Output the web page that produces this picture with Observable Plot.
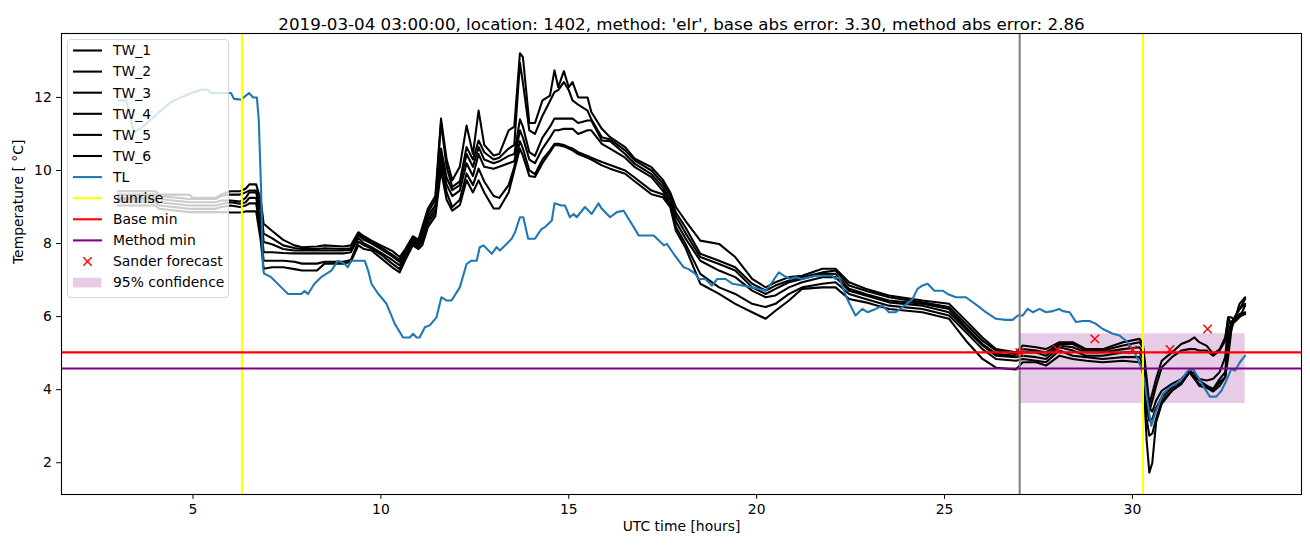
<!DOCTYPE html>
<html><head><meta charset="utf-8">
<script src="https://cdn.jsdelivr.net/npm/d3@7"></script>
<script src="https://cdn.jsdelivr.net/npm/@observablehq/plot@0.6"></script>
<style>
body{margin:0;background:#fff;font-family:"DejaVu Sans",sans-serif;}
#wrap{position:relative;width:1310px;height:547px;}
#legend{position:absolute;left:67px;top:39px;width:162px;height:259px;background:rgba(255,255,255,0.8);border:1px solid rgba(204,204,204,0.8);border-radius:4px;box-sizing:border-box;}
#legend svg{position:absolute;left:-1px;top:-1px;}
</style></head><body><div id="wrap"><div id="legend"></div></div>
<script>
const title = "2019-03-04 03:00:00, location: 1402, method: 'elr', base abs error: 3.30, method abs error: 2.86";
const xLabel = "UTC time [hours]";
const yLabel = "Temperature [ °C]";
const xTicks = [5, 10, 15, 20, 25, 30];
const yTicks = [2, 4, 6, 8, 10, 12];

const twHours = [3.0,4.0,4.1,4.9,5.0,5.6,5.75,6.0,6.25,6.4,6.5,6.68,6.8,6.88,7.1,7.4,7.7,7.9,8.3,8.5,9.0,9.2,9.4,9.55,9.75,10.0,10.3,10.5,10.65,10.85,11.0,11.1,11.25,11.45,11.6,11.75,11.9,12.1,12.28,12.45,12.6,12.75,13.0,13.15,13.4,13.55,13.7,13.78,13.95,14.1,14.3,14.5,14.62,14.72,14.87,15.0,15.1,15.25,15.5,15.6,15.88,16.1,16.5,16.76,17.2,17.5,17.7,17.85,18.1,18.5,19.0,19.43,19.88,20.24,20.5,20.86,21.21,21.75,22.1,22.46,22.9,23.52,24.41,25.12,25.57,26.01,26.37,26.9,27.08,27.44,27.7,28.06,28.41,28.77,29.21,29.75,30.19,30.28,30.38,30.45,30.53,30.63,30.78,31.05,31.3,31.52,31.65,31.78,31.98,32.15,32.32,32.47,32.55,32.63,32.72,32.85,33.0];
const tw1 = [9.43,9.43,9.34,9.34,9.25,9.25,9.34,9.43,9.43,9.50,9.62,9.62,9.20,8.54,8.35,8.10,7.95,7.90,7.92,7.95,7.92,7.95,8.31,8.20,8.08,7.95,7.80,7.63,7.85,8.20,8.10,8.45,8.95,9.30,11.42,10.30,9.73,10.10,11.23,10.45,11.64,10.70,10.41,10.45,11.10,11.20,13.21,13.10,11.30,11.30,11.92,12.05,12.74,12.28,12.72,12.28,12.42,12.00,12.00,11.60,11.14,10.91,10.64,10.32,10.09,9.75,9.40,9.00,8.63,8.08,7.99,7.63,7.03,6.80,6.94,7.08,7.12,7.31,7.31,6.94,6.76,6.58,6.44,6.35,5.89,5.43,5.11,5.02,5.21,5.16,5.11,5.30,5.30,5.11,5.11,5.30,5.39,5.25,4.30,3.60,3.90,4.30,4.79,5.02,5.25,5.34,5.43,5.30,5.20,4.98,5.10,5.43,5.98,5.98,5.90,6.35,6.53];
const tw2 = [9.34,9.34,9.30,9.22,9.22,9.22,9.30,9.34,9.34,9.40,9.45,9.45,9.00,8.27,8.15,7.95,7.88,7.85,7.85,7.87,7.85,7.87,8.28,8.15,8.04,7.90,7.70,7.55,7.80,8.15,8.05,8.35,8.85,9.20,11.30,10.10,9.55,9.70,10.64,10.30,10.82,10.50,10.30,10.35,10.60,10.70,12.95,12.40,11.10,11.00,11.50,11.90,12.15,12.20,12.42,12.20,11.92,11.80,11.64,11.40,10.91,10.85,10.55,10.27,10.00,9.65,9.30,8.85,8.45,7.72,7.53,7.35,6.90,6.71,6.85,6.99,7.08,7.21,7.26,6.85,6.71,6.53,6.39,6.26,5.80,5.34,5.07,4.98,5.11,5.07,5.02,5.25,5.25,5.07,5.07,5.21,5.30,5.15,4.00,3.40,3.70,4.10,4.61,4.89,5.07,5.11,5.11,5.07,5.07,4.93,5.07,5.34,5.98,5.80,5.85,5.98,6.30];
const tw3 = [9.25,9.25,9.22,9.13,9.13,9.13,9.18,9.18,9.15,9.25,9.40,9.40,8.90,8.04,7.98,7.85,7.81,7.81,7.81,7.81,7.81,7.83,8.23,8.10,8.00,7.85,7.65,7.50,7.75,8.10,8.00,8.25,8.75,9.05,10.60,9.80,9.46,9.60,10.45,10.10,10.64,10.30,10.20,10.25,10.40,10.45,11.40,11.20,10.50,10.40,10.90,11.20,11.42,11.42,11.42,11.42,11.42,11.30,11.37,11.37,10.82,10.80,10.45,10.18,9.90,9.55,9.20,8.75,8.30,7.63,7.44,7.26,6.80,6.62,6.76,6.94,7.03,7.17,7.17,6.76,6.62,6.44,6.35,6.21,5.71,5.25,4.98,4.93,5.02,5.02,4.93,5.21,5.16,5.02,5.02,5.11,5.16,5.00,3.80,3.51,3.40,3.70,3.97,4.16,4.29,4.52,4.43,4.29,4.25,4.30,4.48,4.89,5.80,5.85,5.90,6.07,6.12];
const tw4 = [9.20,9.20,9.13,9.04,9.04,9.04,9.08,9.13,9.09,9.13,9.25,9.25,8.60,7.76,7.76,7.74,7.73,7.73,7.73,7.73,7.73,7.76,8.15,8.00,7.90,7.75,7.55,7.40,7.70,8.05,7.95,8.15,8.65,8.95,10.40,9.60,9.30,9.45,10.20,9.85,10.45,10.10,10.05,10.10,10.20,10.25,11.10,10.90,10.30,10.20,10.60,10.90,11.10,11.10,11.14,11.14,11.14,11.00,11.10,11.10,10.73,10.60,10.35,10.09,9.82,9.45,9.10,8.60,8.15,7.53,7.26,7.08,6.71,6.53,6.58,6.80,6.94,7.08,7.08,6.71,6.58,6.39,6.30,6.12,5.66,5.21,4.93,4.89,4.93,4.89,4.84,5.16,5.07,4.93,4.93,5.02,5.02,4.85,3.60,3.15,3.20,3.50,3.79,4.05,4.20,4.48,4.35,4.25,4.11,4.02,4.29,4.48,5.50,5.85,5.95,6.00,6.07];
const tw5 = [9.13,9.13,9.04,8.95,8.95,8.95,9.00,9.04,9.00,9.04,9.10,9.10,8.30,7.53,7.53,7.53,7.50,7.45,7.45,7.50,7.50,7.55,8.05,7.95,7.86,7.70,7.45,7.30,7.62,8.00,7.90,8.05,8.55,8.85,10.20,9.40,9.00,9.20,9.92,9.60,10.05,9.70,9.30,9.25,9.60,10.10,10.80,10.60,10.00,9.90,10.30,10.55,10.73,10.73,10.70,10.64,10.60,10.50,10.40,10.35,10.23,10.15,10.00,9.80,9.45,9.35,9.05,8.45,8.00,7.17,6.80,6.62,6.35,6.26,6.35,6.62,6.80,6.90,6.94,6.62,6.48,6.30,6.21,6.03,5.57,5.11,4.84,4.79,4.84,4.79,4.75,5.07,4.93,4.89,4.84,4.89,4.89,4.70,3.20,2.74,2.80,3.20,3.70,3.97,4.16,4.48,4.30,4.15,4.07,3.97,4.20,4.34,5.16,5.70,5.98,6.20,6.48];
const tw6 = [9.04,9.04,8.95,8.86,8.86,8.86,8.86,8.85,8.85,8.88,8.88,8.88,8.10,7.31,7.35,7.35,7.30,7.26,7.26,7.45,7.45,7.50,7.95,7.85,7.81,7.60,7.35,7.21,7.55,7.95,7.85,7.95,8.45,8.75,10.00,9.20,8.90,9.05,9.73,9.40,9.73,9.40,8.96,8.96,9.40,10.00,10.60,10.40,9.85,9.82,10.20,10.50,10.69,10.69,10.66,10.60,10.55,10.45,10.35,10.30,10.14,10.05,9.91,9.70,9.35,9.27,9.00,8.35,7.90,6.90,6.62,6.35,6.12,5.94,6.16,6.44,6.76,6.80,6.80,6.48,6.39,6.21,6.12,5.94,5.34,4.84,4.60,4.55,4.75,4.75,4.66,4.93,4.84,4.79,4.75,4.79,4.75,4.60,2.60,1.73,2.00,3.10,3.61,3.97,4.16,4.48,4.30,4.10,4.05,3.95,4.10,4.34,4.90,5.60,5.98,6.20,6.35];

const tlHours = [3.0,3.22,3.43,3.61,4.15,4.41,4.68,4.95,5.21,5.39,5.48,5.83,6.01,6.09,6.28,6.49,6.6,6.7,6.75,6.81,6.86,6.89,7.08,7.35,7.53,7.88,7.97,8.06,8.23,8.41,8.68,8.86,9.03,9.12,9.21,9.57,9.66,9.75,9.93,10.01,10.15,10.37,10.59,10.77,10.86,10.95,11.03,11.17,11.3,11.48,11.61,11.75,11.88,12.1,12.28,12.41,12.55,12.63,12.73,12.95,13.08,13.17,13.48,13.57,13.7,13.79,13.92,14.1,14.19,14.28,14.37,14.55,14.62,14.81,14.9,15.03,15.13,15.21,15.43,15.61,15.79,15.88,16.1,16.28,16.46,16.59,16.73,16.86,17.26,17.53,17.61,17.79,18.06,18.19,18.37,18.46,18.63,18.81,18.95,19.17,19.35,19.48,19.88,20.24,20.41,20.59,20.72,20.9,21.03,21.21,21.39,21.57,22.01,22.1,22.19,22.41,22.63,22.81,22.95,23.17,23.35,23.52,23.7,23.93,24.15,24.28,24.41,24.55,24.73,24.95,25.08,25.3,25.57,25.93,26.1,26.37,26.63,26.81,26.95,27.08,27.21,27.35,27.53,27.7,27.88,28.05,28.15,28.33,28.5,28.68,28.86,29.03,29.21,29.48,29.66,29.83,29.97,30.1,30.23,30.32,30.41,30.5,30.63,30.81,30.99,31.17,31.35,31.48,31.61,31.75,31.93,32.06,32.23,32.37,32.5,32.63,32.73,32.86,33.0];
const tlTemps = [11.92,11.92,11.05,11.15,11.64,11.87,12.0,12.12,12.21,12.21,12.12,12.12,12.12,11.96,11.94,12.12,12.0,12.0,11.37,9.54,7.35,7.18,7.08,6.8,6.62,6.62,6.7,6.62,6.9,7.08,7.26,7.53,7.45,7.35,7.53,7.53,7.26,6.9,6.62,6.53,6.35,5.8,5.43,5.43,5.53,5.43,5.43,5.71,5.76,5.98,6.53,6.44,6.44,6.8,7.44,7.53,7.53,7.9,7.95,7.72,7.9,7.81,8.13,8.31,8.72,8.72,8.13,8.13,8.27,8.4,8.45,8.63,9.1,9.04,9.04,8.72,8.81,8.72,9.0,8.81,9.1,8.95,8.72,8.86,8.9,8.68,8.45,8.22,8.22,7.95,7.99,7.72,7.35,7.3,7.17,7.03,7.03,6.85,7.03,7.03,6.9,6.88,6.8,6.71,6.94,7.21,7.12,7.03,7.08,7.03,7.08,7.12,7.12,7.03,7.08,6.48,6.03,6.21,6.12,6.21,6.3,6.12,6.12,6.3,6.48,6.76,6.85,6.9,6.71,6.71,6.62,6.53,6.53,6.26,6.12,5.94,5.91,5.91,6.03,6.03,6.21,6.12,6.21,6.12,6.15,6.21,6.15,6.12,5.85,5.88,5.88,5.8,5.66,5.53,5.48,5.34,5.16,4.93,4.61,4.25,3.61,3.01,3.42,3.88,4.07,4.16,4.34,4.52,4.57,4.34,4.02,3.81,3.81,3.97,4.25,4.57,4.52,4.75,4.93];

const sunriseHours = [6.3, 30.28];
const forecastStart = [27];
const baseMin = [5.02];
const methodMin = [4.58];
const forecastHours = [27, 28, 29, 30, 31, 32];
const forecastTemps = [5.02, 5.10, 5.39, 5.09, 5.10, 5.66];
const bandHours = [27, 33];
const bandTemps = [3.62, 5.53];

const twNames = ["TW_1","TW_2","TW_3","TW_4","TW_5","TW_6"];
const twSeries = [tw1, tw2, tw3, tw4, tw5, tw6];
const twRows = twSeries.flatMap((s, k) => twHours.map((h, i) => ({h, t: s[i], name: twNames[k]})));
const tlRows = tlHours.map((h, i) => ({h, t: tlTemps[i]}));
const fcRows = forecastHours.map((h, i) => ({h, t: forecastTemps[i]}));
const bandRows = [{x1: bandHours[0], x2: bandHours[1], y1: bandTemps[0], y2: bandTemps[1]}];

const LW = 2.08;
const plot = Plot.plot({
  width: 1310, height: 547,
  marginLeft: 61, marginRight: 9, marginTop: 33, marginBottom: 53,
  style: {fontFamily: "DejaVu Sans", fontSize: "13.9px", color: "black", background: "white"},
  x: {domain: [1.5, 34.5]},
  y: {domain: [1.13, 13.75]},
  marks: [
    Plot.rect(bandRows, {x1: "x1", x2: "x2", y1: "y1", y2: "y2", fill: "purple", fillOpacity: 0.2}),
    Plot.line(twRows, {x: "h", y: "t", z: "name", stroke: "black", strokeWidth: LW, strokeLinejoin: "round"}),
    Plot.line(tlRows, {x: "h", y: "t", stroke: "#1f77b4", strokeWidth: LW, strokeLinejoin: "round"}),
    Plot.ruleX(sunriseHours, {stroke: "yellow", strokeWidth: LW}),
    Plot.ruleX(forecastStart, {stroke: "gray", strokeWidth: LW}),
    Plot.ruleY(baseMin, {stroke: "red", strokeWidth: LW}),
    Plot.ruleY(methodMin, {stroke: "purple", strokeWidth: LW}),
    Plot.dot(fcRows, {x: "h", y: "t", symbol: "times", r: 3.9, stroke: "red", strokeWidth: 1.4}),
    Plot.axisX({ticks: xTicks, tickSize: 4.86, tickPadding: 4.86, label: null, fontSize: 13.9}),
    Plot.axisY({ticks: yTicks, tickSize: 4.86, tickPadding: 4.86, label: null, fontSize: 13.9}),
    Plot.frame({stroke: "black", strokeWidth: 1.1}),
    Plot.text([xLabel], {frameAnchor: "bottom", dy: 36, fontSize: 13.9, fill: "black"}),
    Plot.text([yLabel], {frameAnchor: "left", dx: -43, rotate: -90, fontSize: 13.9, fill: "black"}),
    Plot.text([title], {frameAnchor: "top", dy: -15, fontSize: 16.7, fill: "black"})
  ]
});
document.getElementById("wrap").prepend(plot);

// legend
const legendItems = [
  ...twNames.map(n => ({label: n, kind: "line", color: "black"})),
  {label: "TL", kind: "line", color: "#1f77b4"},
  {label: "sunrise", kind: "line", color: "yellow"},
  {label: "Base min", kind: "line", color: "red"},
  {label: "Method min", kind: "line", color: "purple"},
  {label: "Sander forecast", kind: "x", color: "red"},
  {label: "95% confidence", kind: "patch", color: "purple"}
];
const lsvg = d3.select("#legend").append("svg").attr("width", 162).attr("height", 259)
  .style("font-family", "DejaVu Sans").style("font-size", "13.9px");
legendItems.forEach((it, i) => {
  const y = 11.5 + i * 21.1;
  const g = lsvg.append("g");
  if (it.kind === "line") {
    g.append("line").attr("x1", 6).attr("x2", 35).attr("y1", y).attr("y2", y).attr("stroke", it.color).attr("stroke-width", LW);
  } else if (it.kind === "x") {
    const cx = 20.5, s = 4.2;
    g.append("path").attr("d", `M${cx-s},${y-s}L${cx+s},${y+s}M${cx-s},${y+s}L${cx+s},${y-s}`).attr("stroke", it.color).attr("stroke-width", 1.4);
  } else {
    g.append("rect").attr("x", 6).attr("y", y - 4.9).attr("width", 28.5).attr("height", 9.7).attr("fill", it.color).attr("fill-opacity", 0.2);
  }
  g.append("text").attr("x", 46).attr("y", y).attr("dy", "0.35em").attr("fill", "black").text(it.label);
});
</script></body></html>
